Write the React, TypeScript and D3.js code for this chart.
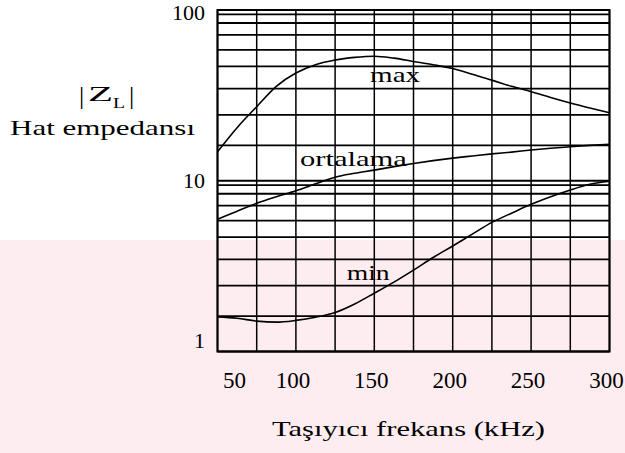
import React from "react";
import * as d3 from "d3";

const FREQ = [50, 62.5, 75, 87.5, 100, 112.5, 125, 137.5, 150, 162.5, 175, 187.5, 200, 212.5, 225, 237.5, 250, 262.5, 275, 287.5, 300];
const MAX_Z = [18.2, 25.8, 33.1, 41.0, 47.0, 51.0, 53.9, 55.5, 56.2, 55.0, 53.0, 51.0, 49.0, 46.4, 43.8, 41.0, 38.8, 36.6, 34.5, 32.6, 30.8];
const AVG_Z = [6.1, 6.63, 7.2, 7.75, 8.35, 9.3, 11.0, 12.1, 13.0, 14.0, 14.9, 15.7, 16.4, 17.0, 17.6, 18.1, 18.7, 19.2, 19.6, 20.0, 20.4];
const MIN_Z = [1.98, 1.94, 1.86, 1.83, 1.88, 1.97, 2.12, 2.4, 2.75, 3.13, 3.59, 4.08, 4.6, 5.18, 5.9, 6.5, 7.12, 7.75, 8.44, 9.2, 9.9];

const X_TICKS = [50, 100, 150, 200, 250, 300];
const X_GRID = [50, 75, 100, 125, 150, 175, 200, 225, 250, 275, 300];
const Y_TICKS = [1, 10, 100];
const Y_GRID = [1, 2, 3, 4, 5, 6, 7, 8, 9, 10, 20, 30, 40, 50, 60, 70, 80, 90, 100];
// relative position of mantissa 1..10 inside one decade, as printed on this graph paper
const DECADE_MANTISSA = [1, 2, 3, 4, 5, 6, 7, 8, 9, 10];
const DECADE_FRACTION = [0, 0.207, 0.386, 0.54, 0.67, 0.766, 0.854, 0.924, 0.974, 1];

const LABELS = [
  { text: "max", f: 147.3, z: 43, len: 50 },
  { text: "ortalama", f: 102.6, z: 14.2, len: 107 },
  { text: "min", f: 132.4, z: 3.21, len: 43 },
];

const W = 625;
const H = 453;
const SERIF = "'Liberation Serif', 'DejaVu Serif', serif";

export default function App() {
  const x = d3.scaleLinear().domain([50, 300]).range([217.5, 609.5]);
  const frac = d3.scaleLinear().domain(DECADE_MANTISSA).range(DECADE_FRACTION);
  const dec = d3.scaleLinear().domain([0, 2]).range([351.5, 10]);
  const y = (v: number) => {
    let e = Math.floor(Math.log10(v) + 1e-9);
    if (e >= 2) e = 1;
    const m = v / Math.pow(10, e);
    return dec(e + frac(m));
  };

  const line = d3
    .line<[number, number]>()
    .x((d) => x(d[0]))
    .y((d) => y(d[1]))
    .curve(d3.curveMonotoneX);

  const series = [MAX_Z, AVG_Z, MIN_Z];

  const [x0, x1] = x.range();
  const yTop = y(100);
  const yBot = y(1);

  return (
    <svg
      width={W}
      height={H}
      viewBox={`0 0 ${W} ${H}`}
      style={{ position: "absolute", left: 0, top: 0, background: "#fff" }}
    >
      <rect x={0} y={0} width={W} height={H} fill="#fff" />
      {/* faint watermark in the lower part of the scan */}
      <rect x={0} y={240} width={W} height={H - 240} fill="#fdedf0" />
      {/* grid */}
      <g stroke="#000" fill="none">
        {Y_GRID.map((v) => (
          <line key={"h" + v} x1={x0} x2={x1} y1={y(v)} y2={y(v)} strokeWidth={1.8} />
        ))}
        {X_GRID.map((v) => (
          <line key={"v" + v} x1={x(v)} x2={x(v)} y1={yTop} y2={yBot} strokeWidth={1.5} />
        ))}
        <rect x={x0} y={yTop} width={x1 - x0} height={yBot - yTop} strokeWidth={2} />
      </g>
      {/* curves */}
      <g stroke="#000" fill="none" strokeWidth={1.6}>
        {series.map((s, i) => (
          <path key={i} d={line(FREQ.map((f, j) => [f, s[j]] as [number, number])) || ""} />
        ))}
      </g>
      {/* curve labels */}
      <g fontFamily={SERIF} fontSize={22} fill="#000">
        {LABELS.map((l) => (
          <text key={l.text} x={x(l.f)} y={y(l.z)} textLength={l.len} lengthAdjust="spacingAndGlyphs">
            {l.text}
          </text>
        ))}
      </g>
      {/* y tick labels */}
      <g fontFamily={SERIF} fontSize={22} fill="#000" textAnchor="end">
        {Y_TICKS.map((v) => (
          <text key={v} x={205} y={y(v) + (v === 1 ? -4 : v === 100 ? 10 : 7)}>
            {v}
          </text>
        ))}
      </g>
      {/* x tick labels */}
      <g fontFamily={SERIF} fontSize={23} fill="#000" textAnchor="middle">
        {X_TICKS.map((v) => (
          <text key={v} x={v === 50 ? x(v) + 17 : x(v) - 3} y={388}>
            {v}
          </text>
        ))}
      </g>
      {/* axis titles */}
      <g fontFamily={SERIF} fill="#000">
        <text x={79} y={104} fontSize={26}>|</text>
        <text x={88} y={101} fontSize={21} textLength={25} lengthAdjust="spacingAndGlyphs">Z</text>
        <text x={113} y={108} fontSize={15} textLength={12} lengthAdjust="spacingAndGlyphs">L</text>
        <text x={129} y={104} fontSize={26}>|</text>
        <text x={10} y={135} fontSize={21} textLength={185} lengthAdjust="spacingAndGlyphs">Hat empedansı</text>
        <text x={272} y={436} fontSize={21} textLength={273} lengthAdjust="spacingAndGlyphs">Taşıyıcı frekans (kHz)</text>
      </g>
    </svg>
  );
}
